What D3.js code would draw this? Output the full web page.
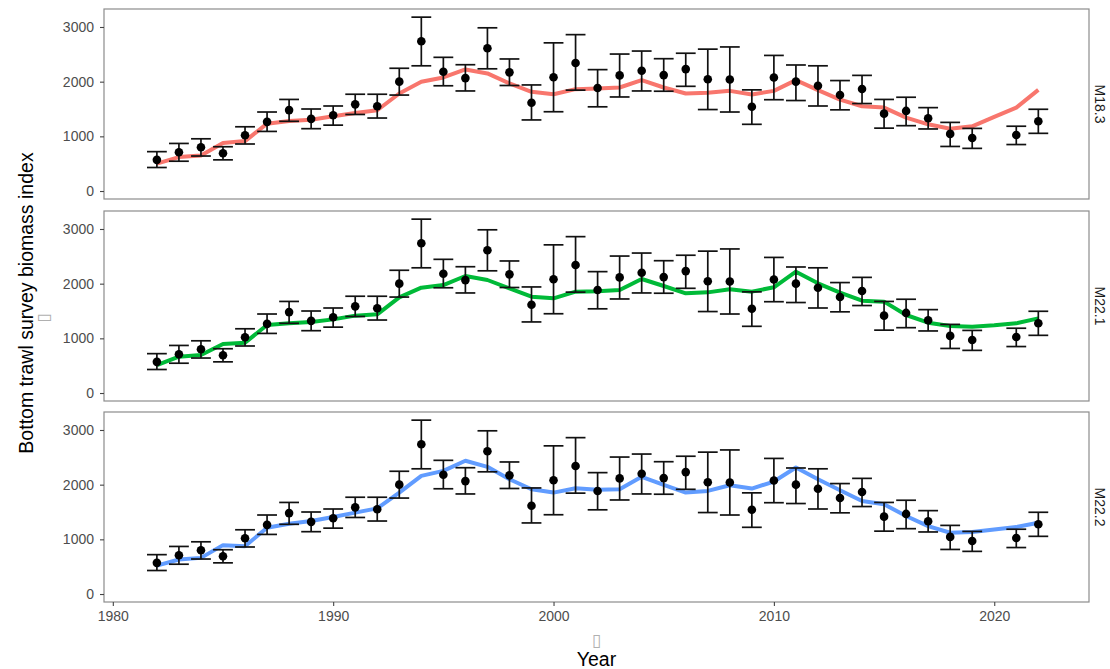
<!DOCTYPE html>
<html>
<head>
<meta charset="utf-8">
<script src="https://cdn.jsdelivr.net/npm/d3@7"></script>
<style>
  html, body { margin: 0; padding: 0; background: #ffffff; }
  svg { display: block; font-family: "Liberation Sans", Arial, sans-serif; }
</style>
</head>
<body>
<svg id="chart" width="1110" height="669"></svg>
<script>
// ---------------- data ----------------
const obsYears = [1982,1983,1984,1985,1986,1987,1988,1989,1990,1991,1992,1993,1994,1995,1996,1997,1998,1999,2000,2001,2002,2003,2004,2005,2006,2007,2008,2009,2010,2011,2012,2013,2014,2015,2016,2017,2018,2019,2021,2022];
const obsIndex = [570,710,800,690,1020,1265,1480,1320,1385,1585,1550,2000,2740,2180,2065,2610,2170,1615,2080,2340,1885,2115,2200,2120,2230,2045,2040,1540,2075,2000,1925,1755,1865,1415,1465,1330,1045,970,1025,1275];
const obsLower = [430,545,640,570,860,1090,1275,1140,1205,1400,1335,1755,2290,1925,1830,2235,1930,1300,1450,1845,1540,1720,1830,1825,1915,1490,1445,1220,1670,1655,1555,1485,1600,1150,1195,1135,815,780,850,1055];
const obsUpper = [720,870,955,810,1175,1445,1675,1500,1555,1770,1770,2245,3180,2445,2310,2985,2415,1940,2710,2860,2220,2505,2560,2420,2520,2595,2635,1850,2480,2305,2290,2020,2115,1675,1715,1525,1255,1145,1185,1495];

const modelYears = [1982,1983,1984,1985,1986,1987,1988,1989,1990,1991,1992,1993,1994,1995,1996,1997,1998,1999,2000,2001,2002,2003,2004,2005,2006,2007,2008,2009,2010,2011,2012,2013,2014,2015,2016,2017,2018,2019,2020,2021,2022];
const fitM183 = [500,620,650,877,913,1232,1281,1305,1367,1428,1477,1783,1998,2077,2224,2151,1967,1814,1771,1863,1875,1893,2028,1893,1783,1796,1832,1765,1832,2028,1845,1673,1550,1526,1342,1220,1140,1183,1355,1526,1850];
const fitM221 = [512,665,695,896,921,1244,1274,1299,1347,1415,1439,1750,1927,1975,2140,2067,1914,1762,1732,1854,1860,1884,2085,1957,1823,1841,1896,1854,1933,2219,2006,1835,1689,1671,1427,1287,1226,1213,1238,1274,1366];
const fitM222 = [520,631,661,894,875,1212,1286,1335,1408,1488,1567,1855,2161,2253,2437,2326,2100,1916,1855,1934,1905,1916,2143,1996,1855,1886,1990,1928,2057,2314,2100,1898,1702,1641,1426,1243,1120,1133,1182,1224,1304];

const modelNames = ["M18.3", "M22.1", "M22.2"];
const modelColors = ["#F8766D", "#00BA38", "#619CFF"];
const modelFits = [fitM183, fitM221, fitM222];

const yTicks = [0, 1000, 2000, 3000];
const xTicks = [1980, 1990, 2000, 2010, 2020];
const yTitle = "Bottom trawl survey biomass index";
const xTitle = "Year";

// ---------------- layout ----------------
const svg = d3.select("#chart");
svg.append("rect").attr("width", 1110).attr("height", 669).attr("fill", "#ffffff");

const left = 104, right = 1089, panelH = 190;
const panelTops = [9, 211, 412];

const x = d3.scaleLinear().domain([1979.6, 2024.3]).range([left, right]);
const capHalf = (x(1) - x(0)) * 0.45;

const obs = obsYears.map((yr, i) => ({ yr, v: obsIndex[i], lo: obsLower[i], hi: obsUpper[i] }));

modelNames.forEach((name, p) => {
  const top = panelTops[p];
  const y = d3.scaleLinear().domain([-146, 3329]).range([top + panelH, top]);
  const g = svg.append("g");

  // model fit line
  const fit = modelYears.map((yr, i) => ({ yr, v: modelFits[p][i] }));
  g.append("path")
    .datum(fit)
    .attr("fill", "none")
    .attr("stroke", modelColors[p])
    .attr("stroke-width", 4)
    .attr("stroke-linejoin", "round")
    .attr("stroke-linecap", "butt")
    .attr("d", d3.line().x(d => x(d.yr)).y(d => y(d.v)));

  // error bars
  const eb = g.append("g").attr("stroke", "#111").attr("stroke-width", 1.7).attr("fill", "none");
  eb.selectAll("line.v").data(obs).join("line")
    .attr("x1", d => x(d.yr)).attr("x2", d => x(d.yr))
    .attr("y1", d => y(d.lo)).attr("y2", d => y(d.hi));
  eb.selectAll("line.t").data(obs).join("line")
    .attr("x1", d => x(d.yr) - capHalf).attr("x2", d => x(d.yr) + capHalf)
    .attr("y1", d => y(d.hi)).attr("y2", d => y(d.hi));
  eb.selectAll("line.b").data(obs).join("line")
    .attr("x1", d => x(d.yr) - capHalf).attr("x2", d => x(d.yr) + capHalf)
    .attr("y1", d => y(d.lo)).attr("y2", d => y(d.lo));

  // points
  g.selectAll("circle").data(obs).join("circle")
    .attr("cx", d => x(d.yr)).attr("cy", d => y(d.v)).attr("r", 4.3)
    .attr("fill", "#000");

  // panel border
  svg.append("rect")
    .attr("x", left).attr("y", top).attr("width", right - left).attr("height", panelH)
    .attr("fill", "none").attr("stroke", "#8c8c8c").attr("stroke-width", 1.2);

  // y axis
  const ya = svg.append("g").attr("transform", `translate(${left},0)`)
    .call(d3.axisLeft(y).tickValues(yTicks).tickFormat(d3.format("d")).tickSize(4).tickPadding(6));
  ya.select(".domain").remove();
  ya.selectAll(".tick line").attr("stroke", "#444").attr("stroke-width", 1.1);
  ya.selectAll(".tick text").attr("fill", "#4d4d4d").style("font-size", "14px")
    .style("font-family", "'Liberation Sans', Arial, sans-serif");

  // strip label (right side, rotated)
  svg.append("text")
    .attr("transform", `translate(1100,${top + panelH / 2}) rotate(90)`)
    .attr("text-anchor", "middle").attr("dominant-baseline", "central")
    .attr("fill", "#1a1a1a").style("font-size", "14px")
    .text(name);

  if (p === modelNames.length - 1) {
    const xa = svg.append("g").attr("transform", `translate(0,${top + panelH})`)
      .call(d3.axisBottom(x).tickValues(xTicks).tickFormat(d3.format("d")).tickSize(4).tickPadding(5));
    xa.select(".domain").remove();
    xa.selectAll(".tick line").attr("stroke", "#444").attr("stroke-width", 1.1);
    xa.selectAll(".tick text").attr("fill", "#4d4d4d").style("font-size", "14px")
      .style("font-family", "'Liberation Sans', Arial, sans-serif");
  }
});

// axis titles
const midX = (left + right) / 2;
svg.append("text")
  .attr("x", midX).attr("y", 640).attr("text-anchor", "middle")
  .attr("dominant-baseline", "central")
  .attr("fill", "#b0b0b0").style("font-size", "17px").style("font-family", "'DejaVu Sans', sans-serif")
  .text("\u25AF");
svg.append("text")
  .attr("x", midX).attr("y", 666).attr("text-anchor", "middle")
  .attr("fill", "#000").style("font-size", "19.5px")
  .text(xTitle);

svg.append("text")
  .attr("transform", `translate(33,303) rotate(-90)`)
  .attr("text-anchor", "middle")
  .attr("fill", "#000").style("font-size", "19.5px")
  .text(yTitle);
svg.append("text")
  .attr("transform", `translate(43,318) rotate(-90)`)
  .attr("text-anchor", "middle").attr("dominant-baseline", "central")
  .attr("fill", "#b0b0b0").style("font-size", "17px").style("font-family", "'DejaVu Sans', sans-serif")
  .text("\u25AF");
</script>
</body>
</html>
